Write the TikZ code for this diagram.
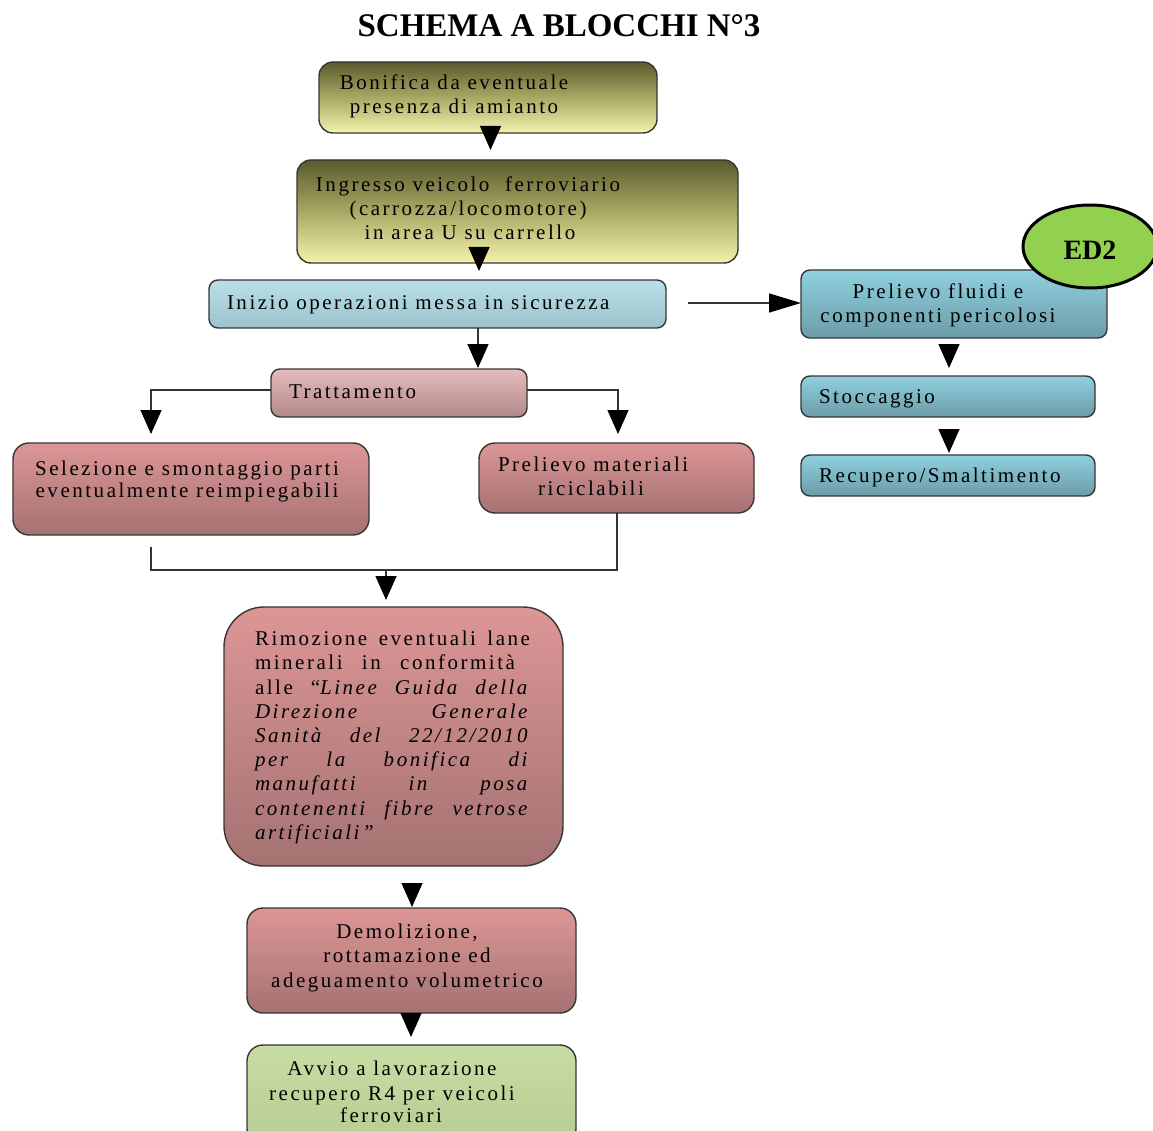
\documentclass[tikz,border=0pt]{standalone}
\usepackage{fontspec}
\setmainfont{Liberation Serif}
\newfontfamily\flowfont{Liberation Serif}[LetterSpace=12]
\usetikzlibrary{arrows.meta,shapes.geometric,calc}
\definecolor{oliveTop}{HTML}{5A5A2C}
\definecolor{oliveMid}{HTML}{A9A965}
\definecolor{oliveBot}{HTML}{F3F3AC}
\definecolor{iceTop}{HTML}{B9DFE9}
\definecolor{iceBot}{HTML}{9CC2CC}
\definecolor{tealTop}{HTML}{90D0DE}
\definecolor{tealBot}{HTML}{6C9CA8}
\definecolor{roseTop}{HTML}{E6BBBB}
\definecolor{roseBot}{HTML}{B28888}
\definecolor{redTop}{HTML}{DD9696}
\definecolor{redBot}{HTML}{A57272}
\definecolor{sageTop}{HTML}{C8DDA2}
\definecolor{sageBot}{HTML}{B7CC93}
\definecolor{badge}{HTML}{92D050}
\definecolor{edge}{HTML}{363636}
% a line of justified text stretched to a given width
\newcommand\jline[2]{\makebox[#1][s]{#2}}

\begin{document}
\begin{tikzpicture}[x=1pt,y=-1pt,
  blk/.style={draw=edge, line width=1.4pt, rounded corners=12pt, inner sep=0pt, outer sep=0pt},
  olivebox/.style={blk, rounded corners=14pt, top color=oliveTop, bottom color=oliveBot, middle color=oliveMid},
  icebox/.style={blk, rounded corners=9pt, top color=iceTop, bottom color=iceBot},
  tealbox/.style={blk, rounded corners=9pt, top color=tealTop, bottom color=tealBot},
  rosebox/.style={blk, rounded corners=9pt, top color=roseTop, bottom color=roseBot},
  redbox/.style={blk, rounded corners=16pt, top color=redTop, bottom color=redBot},
  sagebox/.style={blk, rounded corners=16pt, top color=sageTop, bottom color=sageBot},
  txt/.style={font=\flowfont\fontsize{21}{24}\selectfont, inner sep=0pt, outer sep=0pt, text=black},
  lt/.style={txt, anchor=base west},
  ct/.style={txt, anchor=base},
  conn/.style={draw=black!80, line width=1.3pt},
  arr/.style={conn, -{Triangle[length=24pt,width=21pt,color=black]}},
  harr/.style={conn, -{Triangle[length=32pt,width=19pt,color=black]}},
]
\fill[white] (0,0) rectangle (1153,1131);
\useasboundingbox (0,0) rectangle (1153,1131);

% title
\node[anchor=base, inner sep=0pt] (title) at (559,37)
  {\fontsize{33}{40}\selectfont\bfseries SCHEMA A BLOCCHI N°3};

% main column
\node[olivebox, minimum width=338pt, minimum height=71pt] (bon) at (488,97.5) {};
\node[ct] (bon1) at (454,89.5) {Bonifica da eventuale};
\node[ct] (bon2) at (454,113.5) {presenza di amianto};

\node[olivebox, minimum width=441pt, minimum height=103pt] (ing) at (517.5,211.5) {};
\node[ct] (ing1) at (468,191.5) {Ingresso veicolo\ \ ferroviario};
\node[ct] (ing2) at (468,215.5) {(carrozza/locomotore)};
\node[ct] (ing3) at (470,239.5) {in area U su carrello};

\node[icebox, minimum width=457pt, minimum height=48pt] (ini) at (437.5,304) {};
\node[lt] (ini1) at (227,309) {Inizio operazioni messa in sicurezza};

\node[rosebox, minimum width=256pt, minimum height=48pt] (tra) at (399,393) {};
\node[lt] (tra1) at (289,398) {Trattamento};

\node[redbox, minimum width=356pt, minimum height=92pt] (sel) at (191,489) {};
\node[ct] (sel1) at (187,475) {Selezione e smontaggio parti};
\node[ct] (sel2) at (187,497) {eventualmente reimpiegabili};

\node[redbox, minimum width=275pt, minimum height=70pt] (pre) at (616.5,478) {};
\node[lt] (pre1) at (498,471) {Prelievo materiali};
\node[ct] (pre2) at (591,495) {riciclabili};

\node[redbox, rounded corners=40pt, minimum width=339pt, minimum height=259pt] (rim) at (393.5,736.5) {};
\node[lt] (rim1) at (255,645.7) {\jline{275pt}{Rimozione eventuali lane}};
\node[lt] (rim2) at (255,669.9) {\jline{260pt}{minerali in conformità}};
\node[lt] (rim3) at (255,694.1) {\jline{275pt}{alle “\textit{Linee Guida della}}};
\node[lt] (rim4) at (255,718.3) {\jline{275pt}{\textit{Direzione Generale}}};
\node[lt] (rim5) at (255,742.5) {\jline{275pt}{\textit{Sanità del 22/12/2010}}};
\node[lt] (rim6) at (255,766.7) {\jline{275pt}{\textit{per la bonifica di}}};
\node[lt] (rim7) at (255,790.9) {\jline{275pt}{\textit{manufatti in posa}}};
\node[lt] (rim8) at (255,815.1) {\jline{275pt}{\textit{contenenti fibre vetrose}}};
\node[lt] (rim9) at (255,839.3) {\textit{artificiali”}};

\node[redbox, minimum width=329pt, minimum height=105pt] (dem) at (411.5,960.5) {};
\node[ct] (dem1) at (407,938) {Demolizione,};
\node[ct] (dem2) at (407,962.5) {rottamazione ed};
\node[ct] (dem3) at (407,987) {adeguamento volumetrico};

\node[sagebox, minimum width=329pt, minimum height=100pt] (avv) at (411.5,1095) {};
\node[ct] (avv1) at (392,1075) {Avvio a lavorazione};
\node[ct] (avv2) at (392,1100) {recupero R4 per veicoli};
\node[ct] (avv3) at (391,1122) {ferroviari};

% right column
\node[tealbox, minimum width=306pt, minimum height=68pt] (flu) at (954,304) {};
\node[ct] (flu1) at (938,299) {Prelievo fluidi e};
\node[ct] (flu2) at (938,323) {componenti pericolosi};

\node[tealbox, minimum width=294pt, minimum height=41pt] (sto) at (948,396.5) {};
\node[lt] (sto1) at (819,403) {Stoccaggio};

\node[tealbox, minimum width=294pt, minimum height=41pt] (rec) at (948,475.5) {};
\node[lt] (rec1) at (819,482) {Recupero/Smaltimento};

\node[ellipse, draw=black, line width=3pt, fill=badge, minimum width=134pt, minimum height=83pt, inner sep=0pt] (ed2) at (1090,246.5) {};
\node[anchor=base, inner sep=0pt] (ed2t) at (1090,260) {\fontsize{28}{32}\selectfont\bfseries ED2};

% connector end points
\coordinate (t1) at (490.5,150);
\coordinate (t2) at (479,271);
\coordinate (t3) at (478,368);
\coordinate (h0) at (688,303);
\coordinate (s5) at (949,344);
\coordinate (t5) at (949,368);
\coordinate (s6) at (949,429);
\coordinate (t6) at (949,453);
\coordinate (tl) at (151,434);
\coordinate (tr) at (618,434);
\coordinate (m1) at (151,547);
\coordinate (m2) at (617,570);
\coordinate (mc) at (386,570);
\coordinate (t9) at (386,600);
\coordinate (s10) at (412,883);
\coordinate (t10) at (412,907);
\coordinate (t11) at (411,1037);

% connectors
\draw[arr] (bon.south -| t1) -- (t1);
\draw[arr] (ing.south -| t2) -- (t2);
\draw[arr] (ini.south -| t3) -- (t3);
\draw[harr] (h0) -- (flu.west |- h0);
\draw[arr] (s5) -- (t5);
\draw[arr] (s6) -- (t6);
\draw[arr] ($(tra.west)+(0,-3)$) -| (tl);
\draw[arr] ($(tra.east)+(0,-3)$) -| (tr);
\draw[conn] (m1) |- (m2) -- (pre.south -| m2);
\draw[arr] (mc) -- (t9);
\draw[arr] (s10) -- (t10);
\draw[arr] (dem.south -| t11) -- (t11);
\end{tikzpicture}
\end{document}
